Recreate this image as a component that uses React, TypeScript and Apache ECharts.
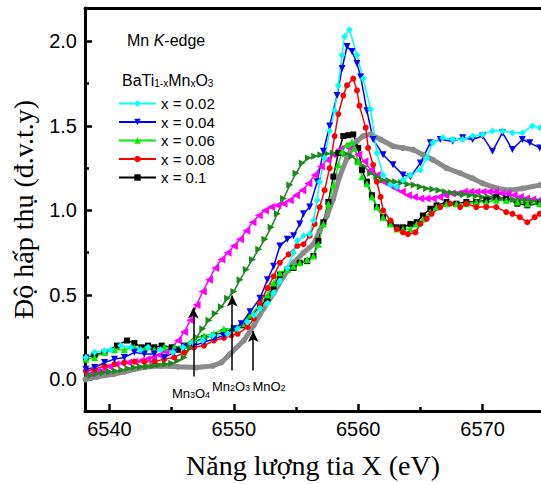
import React, { useEffect, useRef } from "react";
import * as echarts from "echarts";

const X_MIN = 6538.03;
const X_MAX = 6574.7;
const Y_MIN = -0.187;
const Y_MAX = 2.198;

const xMajorTicks = [6540, 6550, 6560, 6570];
const xMinorTicks = [6545, 6555, 6565];
const yMajorTicks = [0, 0.5, 1.0, 1.5, 2.0];
const yMinorTicks = [0.25, 0.75, 1.25, 1.75];

const legendNames = ["x = 0.02", "x = 0.04", "x = 0.06", "x = 0.08", "x = 0.1"];

// x = 0.02 (cyan diamonds)
const x002: [number, number][] = [
  [6538.1, 0.13], [6538.8, 0.16], [6539.6, 0.17], [6540.1, 0.175], [6540.9, 0.2], [6541.7, 0.19],
  [6542.5, 0.175], [6543.1, 0.19], [6544.1, 0.175], [6545.1, 0.16], [6545.9, 0.19], [6546.7, 0.22],
  [6547.5, 0.23], [6548.3, 0.26], [6549.5, 0.27], [6550.3, 0.3], [6551.1, 0.34], [6551.6, 0.38],
  [6552.1, 0.42], [6552.7, 0.45], [6553.2, 0.51], [6553.7, 0.58], [6554.3, 0.66], [6554.8, 0.75],
  [6555.1, 0.82], [6555.6, 0.85], [6556.1, 0.86], [6556.4, 0.94], [6556.7, 1.06], [6556.9, 1.17],
  [6557.3, 1.31], [6557.7, 1.47], [6558.1, 1.59], [6558.4, 1.74], [6558.7, 1.92], [6558.9, 2.03],
  [6559.3, 2.07], [6559.9, 1.92], [6560.4, 1.78], [6561.0, 1.6], [6561.5, 1.34], [6562.0, 1.21],
  [6562.6, 1.15], [6563.1, 1.14], [6563.6, 1.18], [6564.2, 1.21], [6565.0, 1.24], [6565.5, 1.31],
  [6566.0, 1.4], [6566.8, 1.43], [6567.6, 1.42], [6568.4, 1.42], [6569.2, 1.44], [6570.0, 1.45],
  [6570.8, 1.47], [6571.6, 1.47], [6572.4, 1.46], [6573.2, 1.46], [6574.0, 1.5], [6574.6, 1.49],
];

// x = 0.04 (blue down triangles)
const x004: [number, number][] = [
  [6538.1, 0.06], [6538.8, 0.07], [6539.6, 0.1], [6540.4, 0.12], [6541.2, 0.13], [6542.0, 0.16],
  [6542.8, 0.15], [6543.6, 0.15], [6544.4, 0.13], [6545.2, 0.16], [6546.0, 0.19], [6546.8, 0.2],
  [6547.6, 0.22], [6548.4, 0.24], [6549.2, 0.26], [6550.0, 0.3], [6550.6, 0.33], [6551.3, 0.4],
  [6552.1, 0.48], [6552.7, 0.59], [6553.2, 0.67], [6553.7, 0.79], [6554.3, 0.83], [6554.8, 0.85],
  [6555.3, 0.92], [6555.6, 0.98], [6556.1, 1.02], [6556.7, 1.17], [6557.2, 1.35], [6557.7, 1.5],
  [6558.3, 1.68], [6558.7, 1.84], [6559.1, 1.97], [6559.5, 1.94], [6559.9, 1.87], [6560.2, 1.79],
  [6560.7, 1.59], [6561.2, 1.42], [6562.0, 1.33], [6562.8, 1.27], [6563.6, 1.21], [6564.2, 1.2],
  [6565.0, 1.28], [6565.8, 1.4], [6566.6, 1.42], [6567.6, 1.41], [6568.4, 1.43], [6569.2, 1.42],
  [6570.0, 1.44], [6570.8, 1.35], [6571.6, 1.46], [6572.4, 1.36], [6573.2, 1.42], [6573.8, 1.4],
  [6574.6, 1.37],
];

// x = 0.06 (green up triangles)
const x006: [number, number][] = [
  [6538.1, 0.12], [6538.8, 0.13], [6539.6, 0.16], [6540.4, 0.175], [6541.2, 0.175], [6542.0, 0.19],
  [6542.8, 0.175], [6543.6, 0.175], [6544.4, 0.19], [6545.2, 0.19], [6546.0, 0.2], [6546.8, 0.245],
  [6547.6, 0.26], [6548.4, 0.27], [6549.2, 0.3], [6550.0, 0.3], [6550.7, 0.33], [6551.3, 0.38],
  [6552.1, 0.44], [6552.7, 0.5], [6553.2, 0.57], [6553.7, 0.63], [6554.3, 0.65], [6554.8, 0.67],
  [6555.3, 0.69], [6555.9, 0.71], [6556.4, 0.73], [6556.8, 0.8], [6557.2, 0.92], [6557.6, 1.04],
  [6558.0, 1.15], [6558.4, 1.27], [6558.7, 1.35], [6559.1, 1.39], [6559.5, 1.405], [6559.7, 1.37],
  [6560.0, 1.29], [6560.3, 1.2], [6560.7, 1.16], [6561.1, 1.08], [6561.5, 1.02], [6562.0, 0.96],
  [6562.6, 0.92], [6563.1, 0.89], [6563.6, 0.89], [6564.2, 0.89], [6564.7, 0.92], [6565.2, 0.95],
  [6565.8, 0.99], [6566.3, 1.02], [6567.1, 1.04], [6567.9, 1.04], [6568.7, 1.04], [6569.5, 1.05],
  [6570.3, 1.05], [6571.1, 1.06], [6571.9, 1.06], [6572.8, 1.05], [6573.6, 1.04], [6574.6, 1.04],
];

// x = 0.08 (red circles)
const x008: [number, number][] = [
  [6538.1, 0.05], [6538.8, 0.06], [6539.6, 0.08], [6540.4, 0.09], [6541.2, 0.1], [6542.0, 0.105],
  [6542.8, 0.105], [6543.6, 0.105], [6544.4, 0.12], [6545.2, 0.13], [6546.0, 0.16], [6546.8, 0.19],
  [6547.6, 0.2], [6548.4, 0.23], [6549.2, 0.245], [6549.8, 0.26], [6550.3, 0.27], [6551.1, 0.31],
  [6551.6, 0.36], [6552.1, 0.45], [6552.7, 0.54], [6553.2, 0.61], [6553.7, 0.69], [6554.4, 0.74],
  [6555.1, 0.79], [6555.6, 0.8], [6556.1, 0.85], [6556.5, 0.92], [6556.9, 1.02], [6557.3, 1.12],
  [6557.7, 1.25], [6558.1, 1.44], [6558.4, 1.57], [6558.8, 1.68], [6559.1, 1.74], [6559.6, 1.78],
  [6559.9, 1.71], [6560.1, 1.62], [6560.6, 1.49], [6560.8, 1.37], [6561.2, 1.27], [6561.5, 1.17],
  [6561.8, 1.08], [6562.0, 1.0], [6562.6, 0.94], [6563.1, 0.89], [6563.6, 0.87], [6564.0, 0.86],
  [6564.6, 0.87], [6565.0, 0.92], [6565.5, 0.95], [6565.9, 0.98], [6566.6, 1.02], [6567.4, 1.04],
  [6568.2, 1.02], [6568.7, 1.04], [6569.5, 1.02], [6570.3, 1.02], [6571.1, 1.02], [6571.9, 0.99],
  [6572.4, 0.98], [6573.0, 0.96], [6573.6, 0.93], [6574.2, 0.96], [6574.6, 0.98],
];

// x = 0.1 (black squares)
const x010: [number, number][] = [
  [6538.1, 0.13], [6538.8, 0.145], [6539.6, 0.16], [6540.6, 0.2], [6541.4, 0.23], [6542.0, 0.215],
  [6542.6, 0.19], [6543.1, 0.2], [6543.6, 0.19], [6544.2, 0.2], [6545.0, 0.19], [6545.5, 0.175],
  [6546.0, 0.2], [6546.8, 0.22], [6547.6, 0.245], [6548.4, 0.26], [6549.2, 0.28], [6550.0, 0.3],
  [6550.7, 0.32], [6551.3, 0.37], [6552.1, 0.43], [6552.7, 0.48], [6553.2, 0.55], [6553.7, 0.62],
  [6554.3, 0.65], [6554.8, 0.66], [6555.3, 0.69], [6555.9, 0.7], [6556.4, 0.73], [6556.8, 0.82],
  [6557.2, 0.93], [6557.6, 1.05], [6558.0, 1.2], [6558.4, 1.34], [6558.8, 1.44], [6559.2, 1.445],
  [6559.6, 1.45], [6560.0, 1.37], [6560.3, 1.24], [6560.7, 1.17], [6561.1, 1.09], [6561.5, 1.02],
  [6562.0, 0.96], [6562.6, 0.92], [6563.1, 0.9], [6563.6, 0.9], [6564.2, 0.92], [6564.7, 0.93],
  [6565.2, 0.97], [6565.8, 1.01], [6566.3, 1.03], [6567.1, 1.05], [6567.9, 1.04], [6568.7, 1.05],
  [6569.5, 1.05], [6570.3, 1.06], [6571.1, 1.08], [6571.9, 1.07], [6572.8, 1.04], [6573.6, 1.03],
  [6574.6, 1.04],
];

// Mn3O4 reference (magenta left triangles)
const mn3o4: [number, number][] = [
  [6538.0, 0.03], [6538.5, 0.035], [6539.0, 0.045], [6539.5, 0.055], [6540.0, 0.075], [6540.5, 0.09],
  [6541.0, 0.095], [6541.5, 0.1], [6542.0, 0.105], [6542.5, 0.11], [6543.0, 0.12], [6543.5, 0.13],
  [6544.0, 0.145], [6544.5, 0.165], [6545.0, 0.19], [6545.5, 0.23], [6546.0, 0.28], [6546.5, 0.35],
  [6547.0, 0.44], [6547.5, 0.52], [6548.0, 0.59], [6548.5, 0.66], [6549.0, 0.71], [6549.5, 0.75],
  [6550.0, 0.79], [6550.5, 0.83], [6551.0, 0.88], [6551.5, 0.93], [6552.0, 0.97], [6552.5, 1.0],
  [6553.0, 1.02], [6553.5, 1.03], [6554.0, 1.04], [6554.5, 1.06], [6555.0, 1.09], [6555.5, 1.12],
  [6556.0, 1.16], [6556.5, 1.21], [6557.0, 1.26], [6557.5, 1.3], [6558.0, 1.33], [6558.5, 1.36],
  [6559.0, 1.38], [6559.5, 1.37], [6560.0, 1.33], [6560.5, 1.29], [6561.0, 1.24], [6561.5, 1.21],
  [6562.0, 1.17], [6562.5, 1.15], [6563.0, 1.13], [6563.5, 1.11], [6564.0, 1.09], [6564.5, 1.08],
  [6565.0, 1.07], [6565.5, 1.07], [6566.0, 1.07], [6566.5, 1.08], [6567.0, 1.09], [6567.5, 1.1],
  [6568.0, 1.1], [6568.5, 1.11], [6569.0, 1.11], [6569.5, 1.11], [6570.0, 1.11], [6570.5, 1.11],
  [6571.0, 1.11], [6571.5, 1.1], [6572.0, 1.1], [6572.5, 1.09], [6573.0, 1.08], [6573.5, 1.07],
  [6574.0, 1.065], [6574.5, 1.06],
];

// Mn2O3 reference (dark green right triangles)
const mn2o3: [number, number][] = [
  [6538.0, 0.02], [6538.5, 0.025], [6539.0, 0.035], [6539.5, 0.04], [6540.0, 0.045], [6540.5, 0.05],
  [6541.0, 0.055], [6541.5, 0.065], [6542.0, 0.07], [6542.5, 0.075], [6543.0, 0.075], [6543.5, 0.08],
  [6544.0, 0.085], [6544.5, 0.09], [6545.0, 0.095], [6545.5, 0.11], [6546.0, 0.13], [6546.5, 0.19],
  [6547.0, 0.25], [6547.5, 0.3], [6548.0, 0.35], [6548.5, 0.39], [6549.0, 0.43], [6549.5, 0.48],
  [6550.0, 0.52], [6550.5, 0.59], [6551.0, 0.65], [6551.5, 0.71], [6552.0, 0.77], [6552.5, 0.83],
  [6553.0, 0.9], [6553.5, 0.98], [6554.0, 1.07], [6554.5, 1.15], [6555.0, 1.22], [6555.5, 1.28],
  [6556.0, 1.31], [6556.5, 1.32], [6557.0, 1.33], [6557.5, 1.335], [6558.0, 1.34], [6558.5, 1.34],
  [6559.0, 1.335], [6559.5, 1.32], [6560.0, 1.29], [6560.5, 1.26], [6561.0, 1.22], [6561.5, 1.2],
  [6562.0, 1.18], [6562.5, 1.175], [6563.0, 1.17], [6563.5, 1.165], [6564.0, 1.155], [6564.5, 1.15],
  [6565.0, 1.14], [6565.5, 1.13], [6566.0, 1.125], [6566.5, 1.12], [6567.0, 1.11], [6567.5, 1.105],
  [6568.0, 1.1], [6568.5, 1.095], [6569.0, 1.09], [6569.5, 1.085], [6570.0, 1.08], [6570.5, 1.08],
  [6571.0, 1.075], [6571.5, 1.07], [6572.0, 1.07], [6572.5, 1.065], [6573.0, 1.06], [6573.5, 1.06],
  [6574.0, 1.055], [6574.5, 1.055],
];

// MnO2 reference (thick gray)
const mno2: [number, number][] = [
  [6538.07, 0.0], [6539.0, 0.015], [6540.3, 0.03], [6541.2, 0.045], [6542.0, 0.06], [6543.0, 0.075],
  [6544.1, 0.08], [6545.5, 0.075], [6547.0, 0.07], [6548.3, 0.08], [6549.0, 0.1], [6549.7, 0.15],
  [6550.8, 0.23], [6551.6, 0.32], [6552.4, 0.42], [6553.2, 0.51], [6554.0, 0.61], [6554.8, 0.69],
  [6555.6, 0.75], [6556.4, 0.8], [6556.9, 0.88], [6557.5, 0.97], [6558.0, 1.07], [6558.5, 1.2],
  [6559.1, 1.31], [6559.5, 1.37], [6559.9, 1.41], [6560.4, 1.44], [6561.0, 1.45], [6561.8, 1.42],
  [6562.8, 1.38], [6563.6, 1.37], [6564.4, 1.36], [6565.2, 1.33], [6566.0, 1.3], [6567.1, 1.25],
  [6568.2, 1.22], [6569.2, 1.19], [6570.0, 1.16], [6571.2, 1.13], [6572.2, 1.12], [6573.2, 1.13],
  [6574.6, 1.15],
];

// Reference-edge arrows (energy, bottom, tip)
const arrowX = [6546.74, 6549.87, 6551.56];
const arrowBottom = [0.017, 0.052, 0.052];
const arrowTop = [0.426, 0.496, 0.286];

const SANS = "Liberation Sans, Arial, sans-serif";
const SERIF = "Liberation Serif, Times New Roman, serif";

const W = 541;
const H = 484;

function lineSeries(
  name: string,
  data: [number, number][],
  color: string,
  symbol: string,
  symbolSize: number,
  symbolRotate: number,
  width: number,
  extra: any = {}
) {
  return {
    name,
    type: "line",
    data,
    xAxisIndex: 0,
    yAxisIndex: 0,
    symbol,
    symbolSize,
    symbolRotate,
    showAllSymbol: true,
    lineStyle: { color, width },
    itemStyle: { color },
    emphasis: { disabled: true },
    silent: true,
    ...extra,
  };
}

const subRich = (size: number, main: number, drop: number) => ({
  m: { fontSize: main, fontFamily: SANS, lineHeight: main, fill: "#000", color: "#000", verticalAlign: "middle" },
  s: { fontSize: size, fontFamily: SANS, lineHeight: size, fill: "#000", color: "#000", verticalAlign: "bottom", padding: [drop, 0, 0, 0] },
});

export default function App() {
  const ref = useRef<HTMLDivElement>(null);

  useEffect(() => {
    document.body.style.margin = "0";
    const chart = echarts.init(ref.current!, null, { renderer: "svg", width: W, height: H });

    const arrowData = arrowX.map((x, i) => [
      { coord: [x, arrowBottom[i]], symbol: "none" },
      { coord: [x, arrowTop[i]], symbol: "arrow" },
    ]);

    const option: any = {
      animation: false,
      backgroundColor: "#fff",
      grid: { left: 85, right: 0, top: 8, bottom: 67, containLabel: false },
      legend: {
        data: legendNames,
        orient: "vertical",
        left: 113,
        top: 91,
        itemWidth: 37,
        itemHeight: 8,
        itemGap: 3.5,
        textStyle: { fontSize: 15, fontFamily: SANS, color: "#000" },
        selectedMode: false,
      },
      xAxis: [
        {
          type: "value",
          min: X_MIN,
          max: X_MAX,
          position: "bottom",
          name: "Năng lượng tia X (eV)",
          nameLocation: "middle",
          nameGap: 40,
          nameTextStyle: { fontFamily: SERIF, fontSize: 28, color: "#000" },
          axisLine: { show: true, onZero: false, lineStyle: { color: "#000", width: 3 } },
          axisTick: { show: true, inside: true, length: 7, customValues: xMajorTicks, lineStyle: { color: "#000", width: 2.5 } },
          axisLabel: {
            customValues: xMajorTicks,
            fontSize: 20,
            fontFamily: SANS,
            color: "#000",
            margin: 8,
            formatter: (v: number) => String(Math.round(v)),
          },
          splitLine: { show: false },
        },
        {
          type: "value",
          min: X_MIN,
          max: X_MAX,
          position: "bottom",
          axisLine: { show: false, onZero: false },
          axisTick: { show: true, inside: true, length: 4, customValues: xMinorTicks, lineStyle: { color: "#000", width: 2.5 } },
          axisLabel: { show: false },
          splitLine: { show: false },
        },
        {
          type: "value",
          min: X_MIN,
          max: X_MAX,
          position: "top",
          axisLine: { show: true, onZero: false, lineStyle: { color: "#000", width: 3 } },
          axisTick: { show: false },
          axisLabel: { show: false },
          splitLine: { show: false },
        },
      ],
      yAxis: [
        {
          type: "value",
          min: Y_MIN,
          max: Y_MAX,
          position: "left",
          name: "Độ hấp thụ (đ.v.t.y)",
          nameLocation: "middle",
          nameGap: 48,
          nameTextStyle: { fontFamily: SERIF, fontSize: 28, color: "#000" },
          axisLine: { show: true, onZero: false, lineStyle: { color: "#000", width: 3 } },
          axisTick: { show: true, inside: true, length: 7, customValues: yMajorTicks, lineStyle: { color: "#000", width: 2.5 } },
          axisLabel: {
            customValues: yMajorTicks,
            fontSize: 20,
            fontFamily: SANS,
            color: "#000",
            margin: 8,
            formatter: (v: number) => v.toFixed(1),
          },
          splitLine: { show: false },
        },
        {
          type: "value",
          min: Y_MIN,
          max: Y_MAX,
          position: "left",
          axisLine: { show: false, onZero: false },
          axisTick: { show: true, inside: true, length: 4, customValues: yMinorTicks, lineStyle: { color: "#000", width: 2.5 } },
          axisLabel: { show: false },
          splitLine: { show: false },
        },
      ],
      series: [
        lineSeries("MnO2", mno2, "#8a8a8a", "circle", 6, 0, 5, {
          markLine: {
            silent: true,
            symbol: ["none", "arrow"],
            symbolSize: [8, 11],
            label: { show: false },
            lineStyle: { color: "#000", width: 1.5, type: "solid" },
            emphasis: { disabled: true },
            data: arrowData,
            z: 10,
          },
        }),
        lineSeries("Mn3O4", mn3o4, "#ff00ff", "triangle", 8, 90, 1.5),
        lineSeries("Mn2O3", mn2o3, "#1a8a1a", "triangle", 7, -90, 1.5),
        lineSeries("x = 0.1", x010, "#000000", "rect", 6, 0, 1.5),
        lineSeries("x = 0.06", x006, "#00ee00", "triangle", 7, 0, 1.5),
        lineSeries("x = 0.08", x008, "#ff0000", "circle", 6, 0, 1.5),
        lineSeries("x = 0.04", x004, "#0000ff", "triangle", 7, 180, 1.5),
        lineSeries("x = 0.02", x002, "#00ffff", "diamond", 7, 0, 1.5),
      ],
      graphic: [
        {
          type: "text",
          left: 127,
          top: 32,
          style: {
            text: "{m|Mn }{i|K}{m|-edge}",
            rich: {
              m: { fontSize: 16, fontFamily: SANS, fill: "#000", color: "#000" },
              i: { fontSize: 16, fontFamily: SANS, fontStyle: "italic", fill: "#000", color: "#000" },
            },
          },
        },
        {
          type: "text",
          left: 122,
          top: 64,
          style: {
            text: "{m|BaTi}{s|1-x}{m|Mn}{s|x}{m|O}{s|3}",
            rich: subRich(10, 16, 14),
          },
        },
        {
          type: "text",
          x: 191,
          y: 393,
          style: {
            text: "{m|Mn}{s|3}{m|O}{s|4}",
            rich: subRich(9, 13, 10),
            align: "center",
            verticalAlign: "middle",
          },
        },
        {
          type: "text",
          x: 231,
          y: 386,
          style: {
            text: "{m|Mn}{s|2}{m|O}{s|3}",
            rich: subRich(9, 13, 10),
            align: "center",
            verticalAlign: "middle",
          },
        },
        {
          type: "text",
          x: 269,
          y: 386,
          style: {
            text: "{m|MnO}{s|2}",
            rich: subRich(9, 13, 10),
            align: "center",
            verticalAlign: "middle",
          },
        },
      ],
    };

    chart.setOption(option);
    return () => chart.dispose();
  }, []);

  return (
    <div
      ref={ref}
      style={{ position: "fixed", left: 0, top: 0, width: W, height: H, background: "#fff" }}
    />
  );
}
